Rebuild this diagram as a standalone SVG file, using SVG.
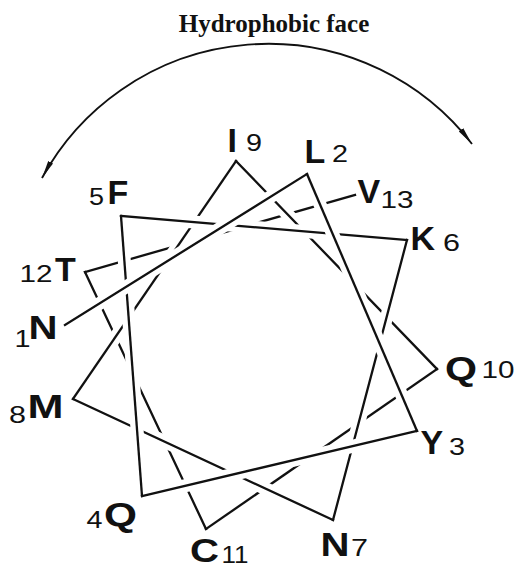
<svg xmlns="http://www.w3.org/2000/svg" width="520" height="569" viewBox="0 0 520 569">
<defs>
<style>
.ln{stroke:#111;stroke-width:2.3;fill:none;stroke-linecap:square}
.h{stroke:#fff;stroke-width:13;fill:none;stroke-linecap:butt}
.aa{font-family:"Liberation Sans",Arial,sans-serif;font-weight:bold;font-size:34px;fill:#111}
.nn{font-family:"Liberation Sans",Arial,sans-serif;font-size:24px;fill:#111}
.title{font-family:"Liberation Serif","Times New Roman",serif;font-weight:bold;font-size:25px;fill:#111}
</style>
<marker id="ah" markerUnits="userSpaceOnUse" markerWidth="20" markerHeight="8" refX="18" refY="3.5" orient="auto-start-reverse" viewBox="0 0 20 8">
<path d="M0,0.8 L18,3.5 L0,6.2 Z" fill="#111"/>
</marker>
</defs>
<rect width="520" height="569" fill="#fff"/>
<text class="title" x="274" y="32" text-anchor="middle">Hydrophobic face</text>
<g id="hydrophobic-arc">
<path d="M42,178 A257.6,257.6 0 0 1 472,144" fill="none" stroke="#111" stroke-width="1.9" marker-start="url(#ah)" marker-end="url(#ah)"/>
</g>
<g id="connectors">
<line class="ln" x1="85" y1="272" x2="355" y2="195"/>
<line class="h" x1="201.7" y1="520" x2="89.3" y2="281"/>
<line class="ln" x1="206" y1="529" x2="85" y2="272"/>
<line class="h" x1="428.8" y1="374.7" x2="214.2" y2="523.3"/>
<line class="ln" x1="437" y1="369" x2="206" y2="529"/>
<line class="h" x1="243" y1="168.2" x2="430" y2="361.8"/>
<line class="ln" x1="236" y1="161" x2="437" y2="369"/>
<line class="h" x1="78.7" y1="390.8" x2="230.4" y2="169.3"/>
<line class="ln" x1="73" y1="399" x2="236" y2="161"/>
<line class="h" x1="323.9" y1="515.8" x2="82.1" y2="403.2"/>
<line class="ln" x1="333" y1="520" x2="73" y2="399"/>
<line class="h" x1="404.4" y1="249.7" x2="335.6" y2="510.3"/>
<line class="ln" x1="407" y1="240" x2="333" y2="520"/>
<line class="h" x1="131" y1="216.8" x2="397" y2="239.2"/>
<line class="ln" x1="121" y1="216" x2="407" y2="240"/>
<line class="h" x1="141.3" y1="486" x2="121.7" y2="226"/>
<line class="ln" x1="142" y1="496" x2="121" y2="216"/>
<line class="h" x1="407.3" y1="433.3" x2="151.7" y2="493.7"/>
<line class="ln" x1="417" y1="431" x2="142" y2="496"/>
<line class="h" x1="310.9" y1="183.2" x2="413.1" y2="421.8"/>
<line class="ln" x1="307" y1="174" x2="417" y2="431"/>
<line class="h" x1="73.5" y1="319.7" x2="298.5" y2="179.3"/>
<line class="ln" x1="65" y1="325" x2="307" y2="174"/>
</g>
<g id="node-N1"><text class="nn" x="14.5" y="347" textLength="16" lengthAdjust="spacingAndGlyphs">1</text><text class="aa" x="28.5" y="339" textLength="29" lengthAdjust="spacingAndGlyphs">N</text></g>
<g id="node-L2"><text class="aa" x="304.5" y="163">L</text><text class="nn" x="332" y="162" textLength="16" lengthAdjust="spacingAndGlyphs">2</text></g>
<g id="node-Y3"><text class="aa" x="420.5" y="454">Y</text><text class="nn" x="449" y="455" textLength="16" lengthAdjust="spacingAndGlyphs">3</text></g>
<g id="node-Q4"><text class="nn" x="86.5" y="528" textLength="16" lengthAdjust="spacingAndGlyphs">4</text><text class="aa" x="104" y="526" textLength="33" lengthAdjust="spacingAndGlyphs">Q</text></g>
<g id="node-F5"><text class="nn" x="89" y="205" textLength="15" lengthAdjust="spacingAndGlyphs">5</text><text class="aa" x="107.5" y="204">F</text></g>
<g id="node-K6"><text class="aa" x="410.5" y="250">K</text><text class="nn" x="443" y="251" textLength="17" lengthAdjust="spacingAndGlyphs">6</text></g>
<g id="node-N7"><text class="aa" x="320.5" y="556" textLength="29" lengthAdjust="spacingAndGlyphs">N</text><text class="nn" x="351" y="556" textLength="17" lengthAdjust="spacingAndGlyphs">7</text></g>
<g id="node-M8"><text class="nn" x="9" y="423" textLength="17" lengthAdjust="spacingAndGlyphs">8</text><text class="aa" x="27.5" y="418" textLength="36" lengthAdjust="spacingAndGlyphs">M</text></g>
<g id="node-I9"><text class="aa" x="227.5" y="152">I</text><text class="nn" x="246" y="151" textLength="16" lengthAdjust="spacingAndGlyphs">9</text></g>
<g id="node-Q10"><text class="aa" x="445" y="380" textLength="32" lengthAdjust="spacingAndGlyphs">Q</text><text class="nn" x="481.5" y="378" textLength="33" lengthAdjust="spacingAndGlyphs">10</text></g>
<g id="node-C11"><text class="aa" x="190" y="562" textLength="29" lengthAdjust="spacingAndGlyphs">C</text><text class="nn" x="221.5" y="563" textLength="27" lengthAdjust="spacingAndGlyphs">11</text></g>
<g id="node-T12"><text class="nn" x="19.5" y="282" textLength="33" lengthAdjust="spacingAndGlyphs">12</text><text class="aa" x="55" y="281">T</text></g>
<g id="node-V13"><text class="aa" x="357.5" y="203">V</text><text class="nn" x="380.5" y="208" textLength="33" lengthAdjust="spacingAndGlyphs">13</text></g>
</svg>
